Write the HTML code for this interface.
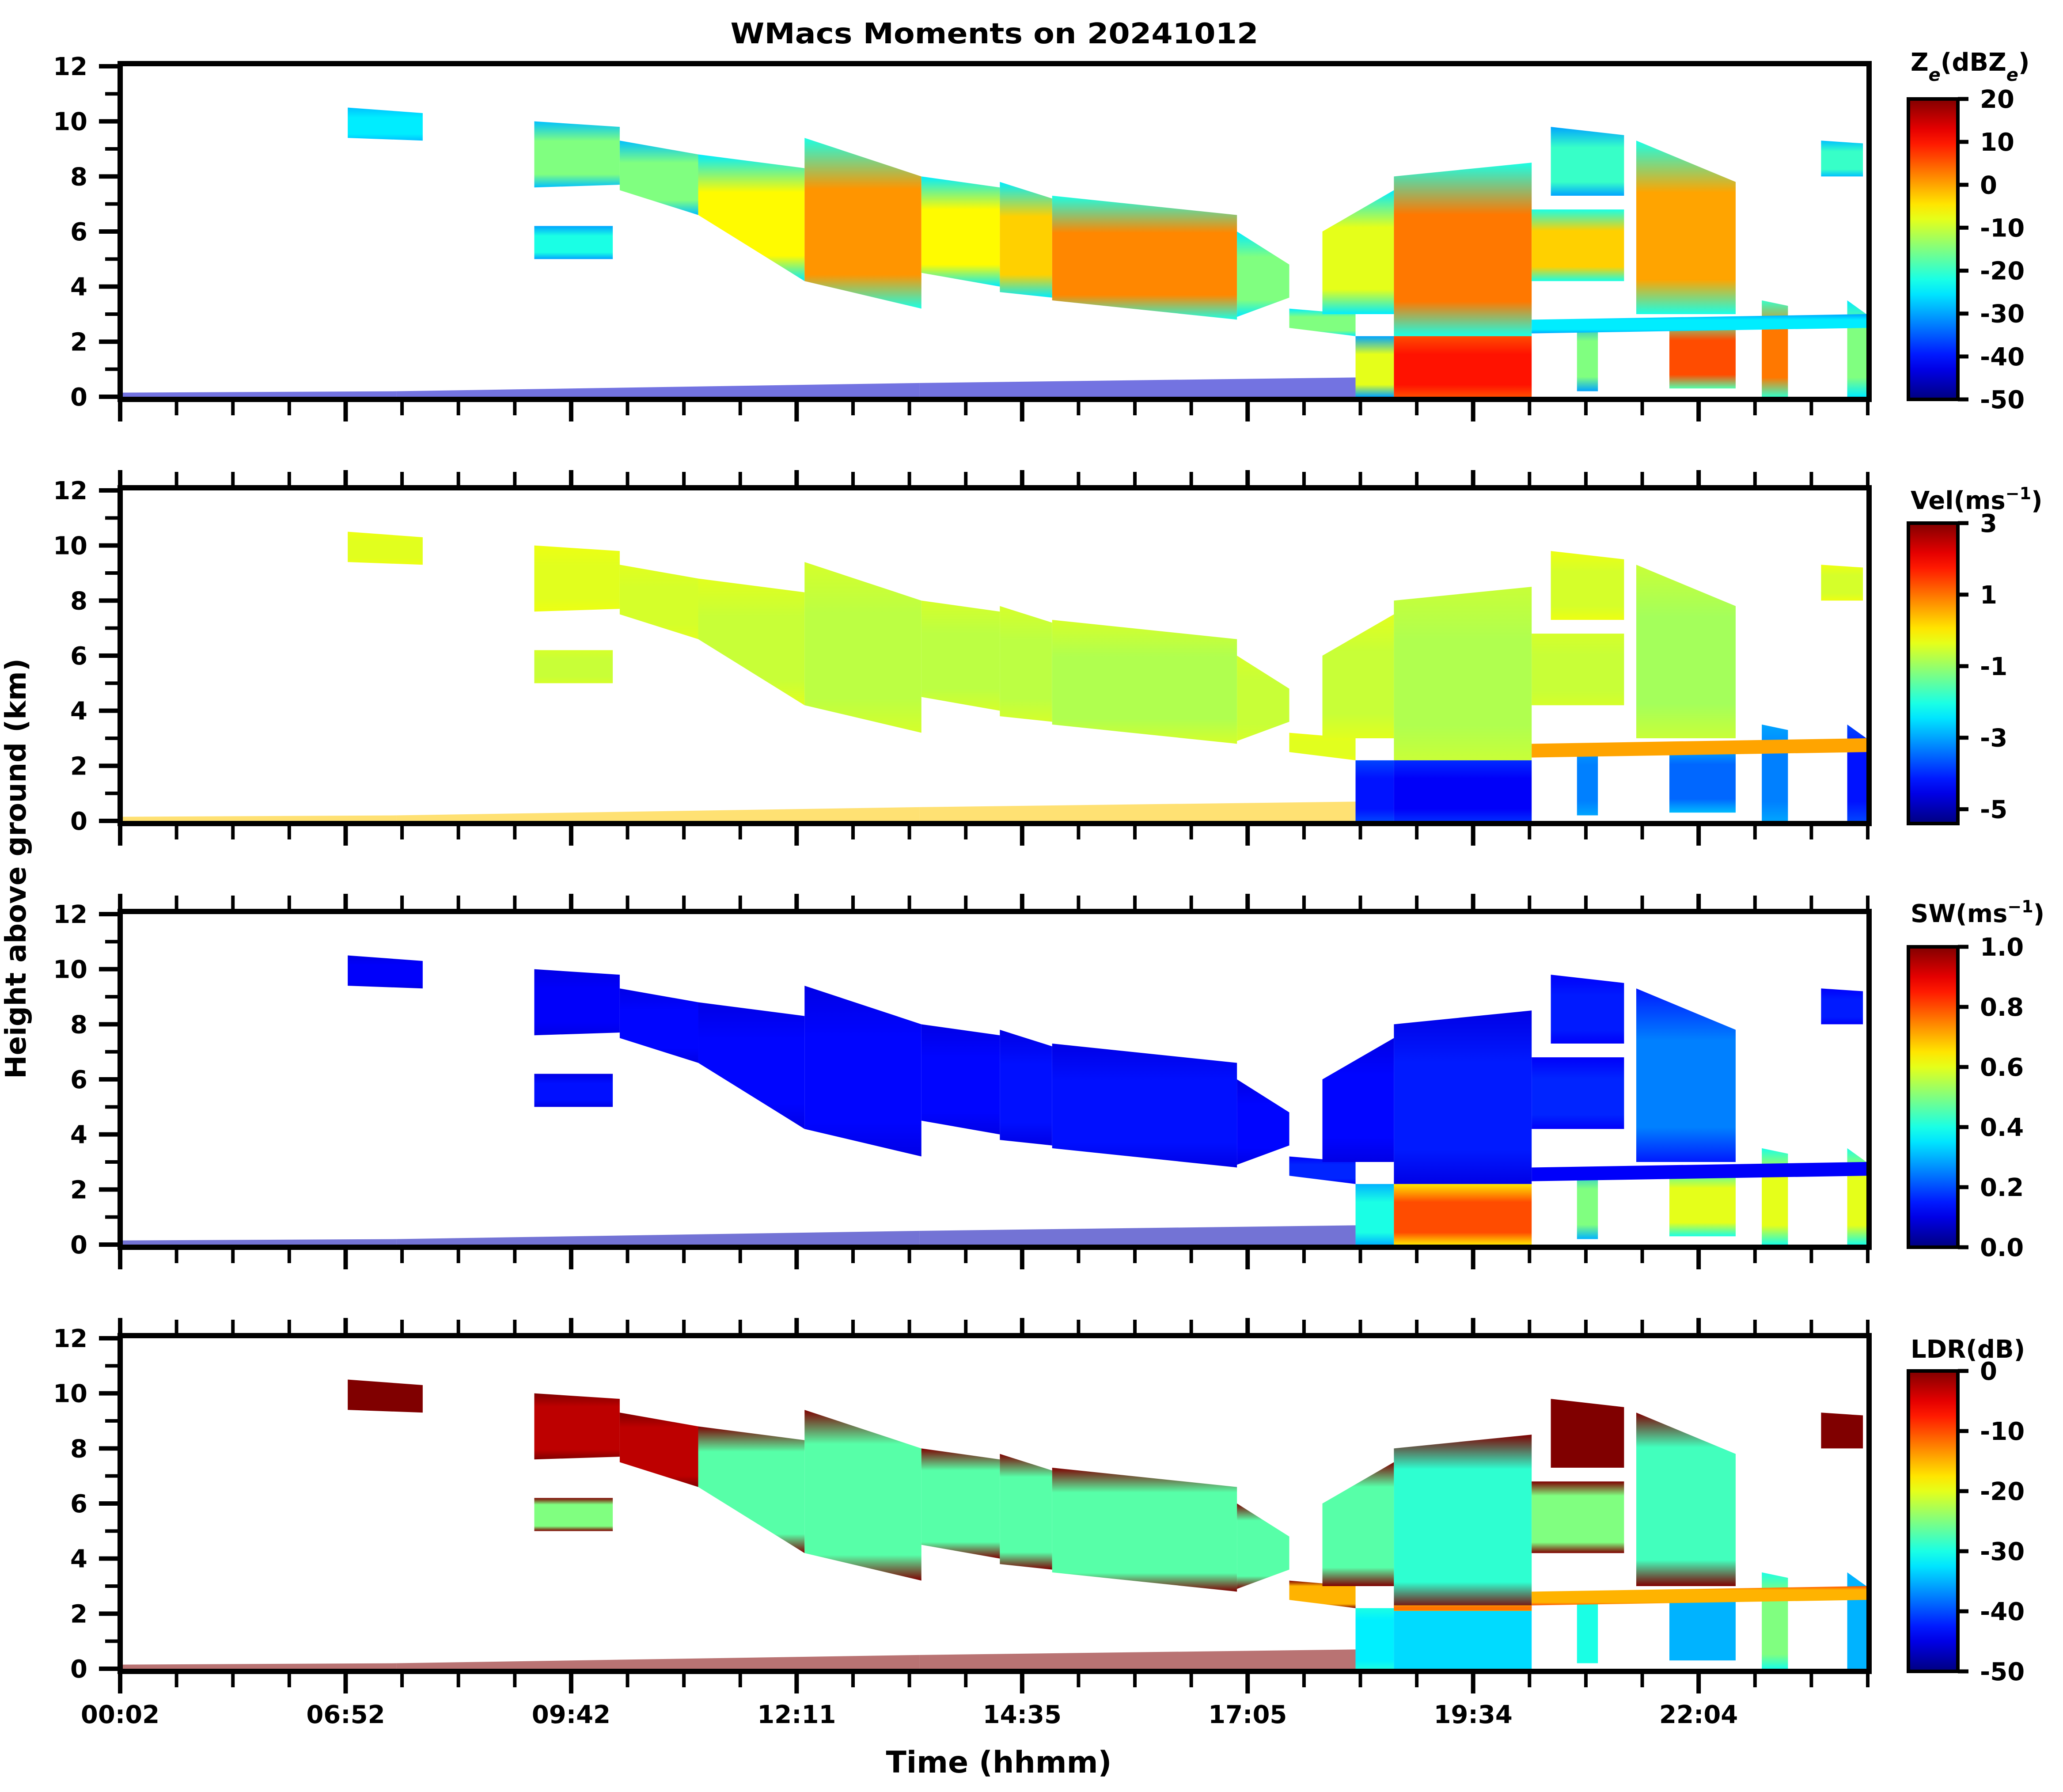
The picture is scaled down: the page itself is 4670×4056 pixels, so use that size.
<!DOCTYPE html>
<html><head><meta charset="utf-8"><style>
html,body{margin:0;padding:0;background:#fff;}
svg{display:block;font-family:"DejaVu Sans","Liberation Sans",sans-serif;font-weight:bold;}
</style></head><body>
<svg id="fig" xmlns="http://www.w3.org/2000/svg" width="4670" height="4056" viewBox="0 0 4670 4056">
<defs id="defs"></defs>
<text x="2251" y="98" font-size="64" text-anchor="middle" textLength="1195" lengthAdjust="spacingAndGlyphs">WMacs Moments on 20241012</text>
<text transform="translate(58,1966) rotate(-90)" font-size="64" text-anchor="middle">Height above ground (km)</text>
<text x="2261" y="4012" font-size="68" text-anchor="middle">Time (hhmm)</text>
<g id="panels"></g>
</svg>
<script>
// ---- data (time index 0..1000, heights km) ----
const segStart = [129,236,236,285,330,391,458,503,533,639,669,688,707,729,729,808,819,868,887,834,940,974,989,808,729];
const segEnd   = [172,281,285,330,391,458,503,533,639,669,707,729,729,808,808,861,861,925,925,846,955,998,1000,1000,808];
const segBase0 = [9.4,5.0,7.6,7.5,6.6,4.2,4.5,3.8,3.5,2.9,2.5,3.0,0.0,2.2,0.0,4.2,7.3,3.0,0.3,0.2,0.0,8.0,0.0,2.3,2.1];
const segBase1 = [9.3,5.0,7.7,6.6,4.2,3.2,4.0,3.6,2.8,3.6,2.2,3.0,0.0,2.2,0.0,4.2,7.3,3.0,0.3,0.2,0.0,8.0,0.0,2.5,2.1];
const segTop0  = [10.5,6.2,10.0,9.3,8.8,9.4,8.0,7.8,7.3,6.0,3.2,6.0,2.2,8.0,2.2,6.8,9.8,9.3,2.8,2.8,3.5,9.3,3.5,2.8,2.3];
const segTop1  = [10.3,6.2,9.8,8.8,8.3,8.0,7.6,7.2,6.6,4.8,3.0,7.5,2.2,8.5,2.2,6.8,9.5,7.8,2.8,2.8,3.3,9.2,3.0,3.0,2.3];
const zeEdge  = [-28,-30,-28,-28,-25,-22,-25,-25,-22,-25,-25,-25,-30,-22,6,-22,-30,-22,-18,-30,-20,-28,-25,-30,null];
const zeCore  = [-25,-22,-15,-15,-6,1,-6,-3,2,-15,-15,-8,-8,3,10,-3,-20,0,6,-15,3,-20,-15,-25,null];
const velEdge = [-0.3,-0.5,-0.3,-0.4,-0.4,-0.5,-0.5,-0.5,-0.5,-0.5,-0.3,-0.4,-3.8,-0.6,-4.0,-0.5,-0.3,-0.6,-2.8,-3,-3,-0.3,-3.8,0.6,null];
const velCore = [-0.4,-0.6,-0.4,-0.5,-0.6,-0.7,-0.7,-0.7,-0.8,-0.6,-0.4,-0.6,-4.2,-0.8,-4.4,-0.6,-0.5,-0.9,-3.5,-3.3,-3.3,-0.5,-4.2,0.6,null];
const swEdge  = [0.1,0.1,0.1,0.1,0.1,0.1,0.1,0.1,0.1,0.1,0.12,0.1,0.3,0.1,0.65,0.12,0.12,0.15,0.4,0.3,0.4,0.12,0.4,0.12,null];
const swCore  = [0.12,0.14,0.12,0.13,0.13,0.13,0.13,0.14,0.14,0.13,0.16,0.13,0.4,0.15,0.8,0.16,0.15,0.25,0.6,0.5,0.6,0.15,0.6,0.12,null];
const ldrEdge = [0,0,0,0,0,0,0,0,0,0,0,0,-30,0,-33,0,0,0,-35,-30,-30,0,-35,-10,-15];
const ldrCore = [0,-25,-3,-3,-27,-27,-27,-27,-27,-27,-15,-27,-32,-29,-33,-25,0,-28,-35,-30,-25,0,-35,-15,-12];
// ground clutter
const clutStart = [0,157,457];
const clutEnd   = [157,457,707];
const clutTop0  = [0.15,0.2,0.5];
const clutTop1  = [0.2,0.5,0.7];
const clutVals  = [-45,0.3,0.05,0];  // ze, vel, sw, ldr
// axis ticks
const yTicks = [0,2,4,6,8,10,12];
const xTickLabels = ["00:02","06:52","09:42","12:11","14:35","17:05","19:34","22:04"];
const nXTicks = 32;
const cbZeTicks = [20,10,0,-10,-20,-30,-40,-50];
const cbVelTicks = [3,1,-1,-3,-5];
const cbSwTicks = [0.0,0.2,0.4,0.6,0.8,1.0];
const cbLdrTicks = [0,-10,-20,-30,-40,-50];

const NS="http://www.w3.org/2000/svg";
const L=272,R=4231,PH=760;
const tops=[144,1104,2063,3023];
const panelsG=document.getElementById('panels');
const defs=document.getElementById('defs');
function mk(t,a,p){const e=document.createElementNS(NS,t);for(const k in a)e.setAttribute(k,a[k]);(p||panelsG).appendChild(e);return e;}
function jet(t){t=Math.max(0,Math.min(1,t));const c=v=>Math.round(255*Math.max(0,Math.min(1,v)));return `rgb(${c(1.5-Math.abs(4*t-3))},${c(1.5-Math.abs(4*t-2))},${c(1.5-Math.abs(4*t-1))})`;}
const xS=i=>L+6+(R-6-L-6)*i/1000;
const panels=[
 {key:'ze',title:'Z<tspan baseline-shift="sub" font-size="40" font-style="italic">e</tspan>(dBZ<tspan baseline-shift="sub" font-size="40" font-style="italic">e</tspan>)',vmin:-50,vmax:20,edge:zeEdge,core:zeCore,ticks:cbZeTicks,fmt:v=>String(v),ty:160,cl:0},
 {key:'vel',title:'Vel(ms<tspan baseline-shift="super" font-size="38">−1</tspan>)',vmin:-5.4,vmax:3,edge:velEdge,core:velCore,ticks:cbVelTicks,fmt:v=>String(v),ty:1152,cl:1},
 {key:'sw',title:'SW(ms<tspan baseline-shift="super" font-size="38">−1</tspan>)',vmin:0,vmax:1,edge:swEdge,core:swCore,ticks:cbSwTicks,fmt:v=>v.toFixed(1),ty:2087,cl:2},
 {key:'ldr',title:'LDR(dB)',vmin:-50,vmax:0,edge:ldrEdge,core:ldrCore,ticks:cbLdrTicks,fmt:v=>String(v),ty:3073,cl:3}
];
panels.forEach((p,pi)=>{
 const T=tops[pi],B=T+PH;
 const yS=h=>B-6-(PH-12)*h/12;
 const norm=v=>(v-p.vmin)/(p.vmax-p.vmin);
 const g=mk('g',{});
 
 
 for(let c=0;c<clutStart.length;c++){
  const x0=xS(clutStart[c]),x1=xS(clutEnd[c]);
  const poly=mk('polygon',{points:`${x0},${yS(0)} ${x1},${yS(0)} ${x1},${yS(clutTop1[c])} ${x0},${yS(clutTop0[c])}`,fill:jet(norm(clutVals[p.cl])),'fill-opacity':0.55},g);
  
  
 }
 for(let s=0;s<segStart.length;s++){
  if(p.edge[s]===null)continue;
  const id=`gr${pi}_${s}`;
  const lg=mk('linearGradient',{id:id,x1:0,y1:0,x2:0,y2:1},defs);
  const ce=jet(norm(p.edge[s])),cc=jet(norm(p.core[s]));
  const stops=p.key==='ldr'?[[0,ce],[0.2,cc],[0.85,cc],[1,ce]]:[[0,ce],[0.3,cc],[0.8,cc],[1,ce]];
  stops.forEach(st=>mk('stop',{offset:st[0],'stop-color':st[1]},lg));
  const x0=xS(segStart[s]),x1=xS(segEnd[s]);
  const poly=mk('polygon',{points:`${x0},${yS(segBase0[s])} ${x1},${yS(segBase1[s])} ${x1},${yS(segTop1[s])} ${x0},${yS(segTop0[s])}`,fill:`url(#${id})`},g);
  
  
 }
 const fr=mk('rect',{x:L,y:T,width:R-L,height:PH,fill:'none',stroke:'#000','stroke-width':12});
 
 
 for(let h=0;h<=12;h++){
  const major=h%2===0;
  const ln=mk('line',{x1:L-(major?48:34),x2:L,y1:yS(h),y2:yS(h),stroke:'#000','stroke-width':major?10:8});
  
  
 }
 yTicks.forEach(h=>{
  const t=mk('text',{x:198,y:yS(h)+20,'font-size':56,'text-anchor':'end'});t.textContent=h;
  
  
 });
 for(let i=0;i<nXTicks;i++){
  const x=L+(R-3-L)*i/(nXTicks-1);const major=i%4===0;
  const lb=mk('line',{x1:x,x2:x,y1:B,y2:B+(major?50:36),stroke:'#000','stroke-width':major?10:8});
  
  
  if(pi>0){const lt=mk('line',{x1:x,x2:x,y1:T,y2:T-(major?40:36),stroke:'#000','stroke-width':major?10:8});
   
   }
  if(pi===3&&major){
   const t=mk('text',{x:x,y:3900,'font-size':56,'text-anchor':'middle'});t.textContent=xTickLabels[i/4];
   
   
  }
 }
 const cx0=4320,cx1=4432,cy0=T+80,cy1=B;
 const cg=mk('linearGradient',{id:'cb'+pi,x1:0,y1:1,x2:0,y2:0},defs);
 for(let k=0;k<=20;k++)mk('stop',{offset:k/20,'stop-color':jet(k/20)},cg);
 const cb=mk('rect',{x:cx0,y:cy0,width:cx1-cx0,height:cy1-cy0,fill:`url(#cb${pi})`,stroke:'#000','stroke-width':8});
 
 
 const cyS=v=>cy1-(cy1-cy0)*norm(v);
 p.ticks.forEach(v=>{
  const tl=mk('line',{x1:cx1,x2:cx1+24,y1:cyS(v),y2:cyS(v),stroke:'#000','stroke-width':9});
  
  
  const t=mk('text',{x:4482,y:cyS(v)+20,'font-size':56});t.textContent=p.fmt(v);
  
  
 });
 const tt=mk('text',{x:4325,y:p.ty,'font-size':56});tt.innerHTML=p.title;
 
 
});
</script>
</body></html>
